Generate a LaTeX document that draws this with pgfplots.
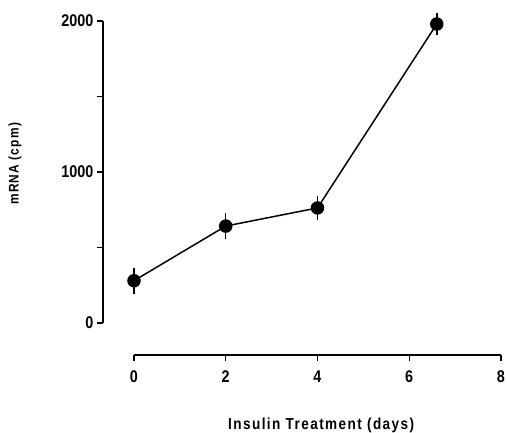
\documentclass[border=0pt]{standalone}
\usepackage{pgfplots}
\pgfplotsset{compat=1.18}
\usepackage{fontspec}
\setmainfont{Liberation Sans}[FakeStretch=0.85]
\newfontfamily\labfont{Liberation Sans}[FakeStretch=0.85, LetterSpace=9]
\begin{document}
\begin{tikzpicture}
\useasboundingbox (-134bp,-110bp) rectangle (373bp,323bp);
\begin{axis}[
  at={(0,0)}, anchor=origin,
  scale only axis, width=367bp, height=302bp,
  xmin=0, xmax=8, ymin=0, ymax=2000,
  axis lines=left, axis line style={-, line width=1.5pt},
  axis x line shift=32bp, axis y line shift=31bp,
  xtick={0,2,4,6,8}, ytick={0,1000,2000},
  minor ytick={500,1500},
  tick align=outside, major tick length=6bp, minor tick length=6bp,
  tick style={line width=1.3pt, black},
  clip=false,
  /pgf/number format/assume math mode=true,
  /pgf/number format/1000 sep={},
  ticklabel style={font=\fontsize{17}{20}\selectfont\bfseries},
  xticklabel style={yshift=-6bp},
]
\addplot+[black, line width=1.5pt, mark=*, mark size=6bp, mark options={fill=black},
  error bars/.cd, y dir=both, y explicit, error bar style={line width=1.5pt}, error mark=none]
  coordinates {
  (0,280) +- (0,85)
  (2,642) +- (0,85)
  (4,762) +- (0,80)
  (6.6,1980) +- (0,72)
};
\node[font=\labfont\fontsize{16}{19}\selectfont\bfseries, anchor=center]
  at (axis description cs:0.51,-0.338) {Insulin Treatment (days)};
\node[font=\labfont\fontsize{14}{17}\selectfont\bfseries, anchor=center, rotate=90]
  at (axis description cs:-0.324,0.527) {mRNA (cpm)};
\end{axis}
\end{tikzpicture}
\end{document}
